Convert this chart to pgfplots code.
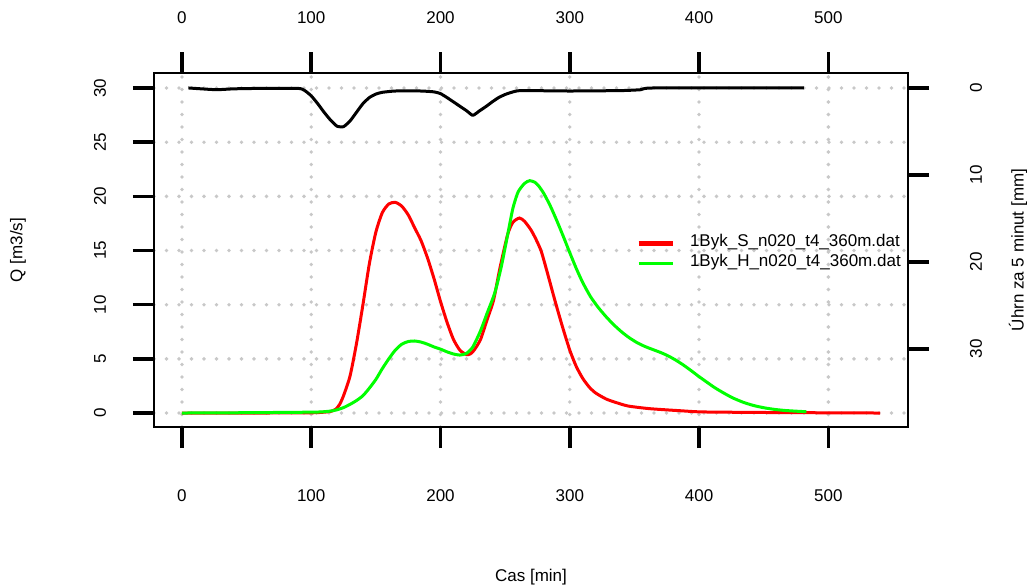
\documentclass[border=0pt]{standalone}
\usepackage{fontspec}
\setmainfont{Liberation Sans}
\usepackage{pgfplots}
\pgfplotsset{compat=1.18}
\definecolor{rred}{RGB}{255,0,0}
\definecolor{rgreen}{RGB}{0,255,0}
\definecolor{gridgray}{RGB}{200,200,200}
\newcommand\fs{\fontsize{17bp}{20bp}\selectfont}
\begin{document}
\begin{tikzpicture}[x=1bp,y=1bp]
\pgfplotsset{
  common/.style={
    at={(154bp,160bp)}, anchor=south west,
    width=754bp, height=354bp, scale only axis,
    xmin=-21.6, xmax=561.6,
    xtick={0,100,...,500},
    tick align=outside,
    major tick length=21bp,
    tick style={black, line width=3.5bp},
    axis line style={line width=2.5bp, black},
    /pgf/number format/assume math mode=true,
    tick label style={font=\fs},
    label style={font=\fs},
  }
}
\begin{axis}[common,
  ymin=-1.29, ymax=31.39,
  ytick={0,5,...,30},
  xtick pos=bottom, ytick pos=left,
  grid=major,
  major grid style={gridgray, line width=3.8bp, line cap=round, dash pattern=on 0bp off 12.5bp},
  xticklabel style={anchor=center, yshift=-48bp},
  yticklabel style={xshift=-33bp, rotate=90, anchor=center},
  xlabel={Cas [min]},
  ylabel={Q [m3/s]},
  xlabel style={at={(axis description cs:0.5,-0.4237)}, anchor=center},
  ylabel style={at={(axis description cs:-0.1804,0.5)}, anchor=center},
  legend style={at={(rel axis cs:0.639,0.4888)}, anchor=west, draw=none, fill=none,
    inner sep=0pt, font=\fs, cells={anchor=west}, row sep=0bp,
    nodes={inner sep=0bp, text height=13bp, text depth=7bp}},
  legend image code/.code={\draw[#1] (0bp,0bp) -- (34bp,0bp); \path (49bp,0bp);},
]
\addplot[rred, line width=3bp, smooth, tension=0.4, legend image post style={line width=5bp}] coordinates {
(0,0) (20,0) (60,0) (100,0.02) (110,0.08) (115,0.15) (119,0.35) (122,0.8) (125,1.6)
(130,3.4) (135,6.4) (140,10) (145,13.8) (150,16.7) (155,18.5) (160,19.3) (165,19.45)
(170,19.1) (175,18.3) (180,17.1) (185,15.9) (190,14.3) (195,12.4) (200,10.3) (205,8.4)
(210,6.8) (215,5.8) (220,5.4) (223,5.45) (226,5.8) (231,6.8) (236,8.6) (241,10.4)
(246,13.4) (252,16.5) (256,17.6) (261,18.0) (265,17.7) (270,16.9) (274,16.0) (278,14.9)
(283,12.8) (288,10.6) (294,8.1) (300,5.8) (305,4.3) (310,3.2) (315,2.4) (320,1.85)
(328,1.3) (335,1.0) (345,0.65) (362,0.4) (387,0.2) (403,0.1) (450,0.05) (500,0.02) (540,0.0)
};
\addlegendentry{1Byk\_S\_n020\_t4\_360m.dat}
\addplot[rgreen, line width=3bp, smooth, tension=0.4] coordinates {
(0,0) (50,0.03) (100,0.08) (110,0.12) (116,0.2) (120,0.3) (125,0.5) (130,0.8) (135,1.15)
(140,1.6) (145,2.3) (150,3.1) (155,4.1) (160,5.0) (165,5.8) (170,6.35) (175,6.6) (180,6.65)
(185,6.55) (190,6.35) (195,6.1) (200,5.9) (205,5.65) (210,5.45) (215,5.35) (220,5.5)
(225,6.1) (231,7.6) (236,9.2) (242,11.1) (247,13.5) (252,16.5) (256,18.9) (260,20.4)
(265,21.2) (269,21.45) (273,21.3) (276,20.95) (280,20.25) (285,19.1) (290,17.75) (295,16.3)
(300,14.8) (305,13.35) (310,12.05) (316,10.75) (322,9.75) (328,8.9) (334,8.15) (340,7.5)
(346,6.95) (352,6.5) (358,6.15) (364,5.87) (370,5.6) (376,5.28) (382,4.88) (388,4.42)
(394,3.9) (400,3.36) (406,2.85) (412,2.35) (419,1.85) (426,1.4) (434,1.0) (442,0.7)
(450,0.49) (458,0.34) (466,0.24) (475,0.17) (483,0.12)
};
\addlegendentry{1Byk\_H\_n020\_t4\_360m.dat}
\end{axis}
\begin{axis}[common,
  ymin=-1.72, ymax=38.97, y dir=reverse,
  ytick={0,10,20,30},
  xtick pos=top, ytick pos=right,
  xticklabel pos=top, yticklabel pos=right,
  xticklabel style={anchor=center, yshift=34bp},
  yticklabel style={xshift=47bp, rotate=90, anchor=center},
  ylabel={Úhrn za 5 minut [mm]},
  ylabel style={at={(axis description cs:1.1459,0.5)}, anchor=center},
]
\addplot[black, line width=3bp, line join=round, smooth, tension=0.3] coordinates {
(5,0.0) (15,0.1) (27,0.2) (40,0.1) (60,0.05) (90,0.05) (95,0.3) (100,0.9) (105,1.8)
(110,2.8) (115,3.7) (120,4.4) (125,4.45) (130,3.8) (135,2.8) (140,1.8) (145,1.1) (150,0.7)
(155,0.5) (165,0.35) (185,0.35) (195,0.45) (200,0.65) (205,1.1) (210,1.6) (215,2.1)
(220,2.6) (225,3.15) (230,2.65) (235,2.15) (240,1.6) (245,1.1) (250,0.75) (255,0.5)
(262,0.3) (300,0.35) (340,0.3) (355,0.2) (365,0.0) (481,0.0)
};
\end{axis}
\pgfresetboundingbox
\path (0,0) rectangle (1027bp,587bp);
\end{tikzpicture}
\end{document}
